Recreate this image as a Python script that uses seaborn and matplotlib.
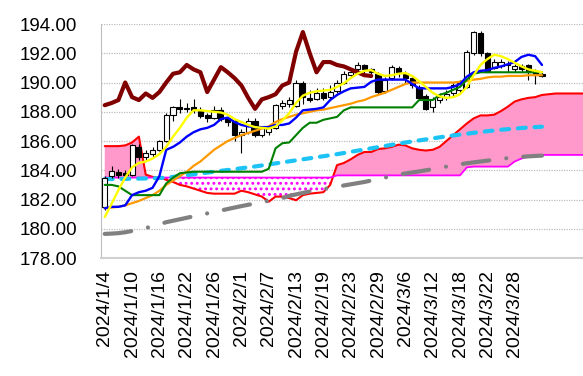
import numpy as np
import matplotlib
matplotlib.use("Agg")
import matplotlib.pyplot as plt
import seaborn as sns
from matplotlib.ticker import StrMethodFormatter

sns.set_style("white")
plt.rcParams['font.family'] = ['Liberation Sans', 'DejaVu Sans']
plt.rcParams['hatch.linewidth'] = 1.3

# tick labels (every 4th trading day)
tick_labels = ['2024/1/4', '2024/1/10', '2024/1/16', '2024/1/22', '2024/1/26',
               '2024/2/1', '2024/2/7', '2024/2/13', '2024/2/19', '2024/2/23',
               '2024/2/29', '2024/3/6', '2024/3/12', '2024/3/18', '2024/3/22',
               '2024/3/28']

# daily candles
opens = [181.5, 183.6, 183.9, 183.8, 183.7, 185.6, 184.9, 185.1, 185.4, 186.0,
         187.8, 188.3, 188.2, 188.3, 188.1, 187.75, 187.6, 188.1, 187.5, 187.4,
         186.4, 186.6, 187.4, 186.4, 186.6, 186.9, 188.4, 188.5, 188.4, 190.0,
         188.95, 188.9, 189.25, 189.0, 189.4, 190.0, 190.5, 190.9, 191.2, 190.9,
         190.6, 189.4, 190.3, 191.0, 190.65, 190.3, 189.7, 189.1, 188.3, 188.8,
         189.0, 189.3, 189.5, 189.7, 192.0, 193.4, 192.0, 191.0, 191.1, 191.3,
         190.9, 191.1, 191.2, 190.8, 190.55]
closes = [183.45, 183.95, 183.65, 183.7, 185.7, 184.9, 185.2, 185.4, 186.0, 187.8,
          188.3, 188.2, 188.25, 188.15, 187.7, 187.6, 188.1, 187.5, 187.3, 186.4,
          186.6, 187.4, 186.4, 186.9, 186.9, 188.45, 188.6, 188.8, 190.0, 189.0,
          188.8, 189.25, 188.95, 189.35, 190.0, 190.6, 190.7, 191.2, 190.9, 190.7,
          189.35, 190.2, 191.05, 190.7, 190.3, 189.8, 188.95, 188.2, 188.85, 189.0,
          189.2, 189.8, 190.0, 192.1, 193.45, 192.0, 190.7, 191.4, 191.4, 191.2,
          191.1, 190.9, 190.7, 190.5, 190.45]
highs = [183.6, 184.3, 184.1, 184.0, 185.8, 185.8, 185.4, 185.6, 186.1, 187.9,
         188.4, 188.9, 188.6, 188.9, 188.3, 187.9, 188.4, 188.3, 187.6, 187.5,
         186.8, 187.6, 187.6, 187.0, 187.1, 188.5, 188.8, 189.0, 190.2, 190.1,
         189.5, 189.6, 189.6, 189.8, 190.2, 190.8, 191.0, 191.4, 191.3, 191.0,
         190.7, 190.4, 191.2, 191.1, 190.8, 190.4, 189.8, 189.2, 189.0, 189.3,
         189.5, 190.0, 190.2, 192.2, 193.55, 193.5, 192.1, 191.6, 191.6, 191.5,
         191.3, 191.3, 191.3, 190.9, 190.7]
lows = [181.3, 183.5, 183.5, 183.4, 183.6, 184.7, 184.7, 184.9, 185.3, 185.9,
        187.4, 187.9, 188.0, 187.9, 187.6, 187.3, 187.5, 187.4, 187.0, 186.0,
        185.2, 186.5, 186.3, 186.3, 186.4, 186.8, 188.2, 188.3, 188.3, 188.5,
        188.7, 188.8, 188.8, 188.9, 189.3, 189.9, 190.3, 190.8, 190.6, 190.4,
        189.2, 189.3, 190.2, 190.4, 190.0, 189.6, 188.9, 188.1, 188.0, 188.6,
        188.8, 189.1, 189.3, 189.6, 191.9, 191.8, 190.7, 190.9, 191.0, 190.7,
        190.7, 190.7, 190.2, 189.9, 190.4]

# indicator lines
yellow_line = [180.8, 181.7, 182.65, 183.5, 184.2, 184.5, 184.6, 184.8, 185.1, 185.6,
               186.3, 186.9, 187.6, 188.1, 188.1, 188.05, 188.0, 187.95, 187.8, 187.5,
               187.3, 187.1, 186.95, 186.9, 186.85, 187.0, 187.4, 187.9, 188.6, 189.1,
               189.3, 189.4, 189.45, 189.5, 189.7, 189.95, 190.3, 190.6, 190.8, 190.85,
               190.6, 190.45, 190.5, 190.6, 190.65, 190.45, 190.1, 189.7, 189.3, 189.05,
               188.95, 189.0, 189.2, 189.7, 190.5, 191.2, 191.6, 191.9, 191.8, 191.6,
               191.35, 191.1, 190.9, 190.8, 190.7]
blue_line = [181.4, 181.5, 181.5, 181.6, 182.3, 182.5, 182.6, 182.8, 183.6, 185.4,
             185.6, 185.9, 186.3, 186.6, 186.8, 186.9, 187.1, 187.5, 187.6, 187.3,
             187.1, 187.0, 186.95, 186.95, 186.95, 187.1, 187.1, 187.2, 187.6, 188.1,
             188.15, 188.2, 188.3, 188.8, 189.15, 189.4, 189.6, 189.65, 189.7, 190.05,
             190.2, 190.2, 190.2, 190.2, 190.2, 189.9, 189.6, 189.6, 189.6, 189.6,
             189.6, 189.7, 189.9, 190.4, 190.7, 190.8, 190.85, 191.0, 191.1, 191.25,
             191.4, 191.75, 191.9, 191.8, 191.2]
green_line = [183.0, 183.0, 182.9, 182.6, 182.3, 182.3, 182.3, 182.3, 182.3, 183.1,
              183.5, 183.8, 183.85, 183.9, 183.9, 183.9, 183.9, 183.9, 183.9, 183.9,
              183.9, 183.9, 183.9, 183.9, 184.1, 185.5, 185.85, 185.9, 186.4, 186.9,
              187.25, 187.25, 187.45, 187.55, 187.65, 188.1, 188.3, 188.3, 188.3, 188.3,
              188.3, 188.3, 188.3, 188.3, 188.3, 188.3, 188.8, 188.8, 188.8, 189.15,
              189.3, 189.5, 189.7, 190.2, 190.6, 190.7, 190.7, 190.7, 190.7, 190.7,
              190.7, 190.7, 190.7, 190.7, 190.7]
orange_line = [181.4, 181.45, 181.5, 181.6, 181.75, 181.9, 182.1, 182.3, 182.6, 183.0,
               183.3, 183.6, 183.9, 184.3, 184.6, 185.0, 185.4, 185.7, 186.0, 186.2,
               186.4, 186.55, 186.7, 186.85, 187.0, 187.3, 187.5, 187.65, 187.8, 187.9,
               188.0, 188.1, 188.15, 188.25, 188.35, 188.45, 188.55, 188.7, 188.8, 189.0,
               189.15, 189.3, 189.5, 189.7, 189.9, 190.0, 190.0, 190.0, 190.0, 190.0,
               190.0, 190.0, 190.05, 190.1, 190.2, 190.25, 190.35, 190.4, 190.4, 190.45,
               190.45, 190.45, 190.5, 190.5, 190.5]
cyan_line = [183.40, 183.40, 183.40, 183.41, 183.42, 183.43, 183.44, 183.45, 183.47, 183.50,
             183.55, 183.60, 183.66, 183.72, 183.78, 183.84, 183.90, 183.96, 184.02, 184.08,
             184.14, 184.20, 184.26, 184.33, 184.40, 184.47, 184.54, 184.61, 184.68, 184.75,
             184.82, 184.89, 184.96, 185.03, 185.10, 185.18, 185.26, 185.34, 185.42, 185.50,
             185.58, 185.66, 185.74, 185.82, 185.90, 185.97, 186.04, 186.11, 186.18, 186.25,
             186.32, 186.38, 186.44, 186.50, 186.56, 186.62, 186.67, 186.72, 186.77, 186.81,
             186.85, 186.89, 186.92, 186.95, 186.98]
gray_line = [179.65, 179.67, 179.7, 179.76, 179.85, 179.95, 180.05, 180.17, 180.3, 180.45,
             180.55, 180.65, 180.75, 180.85, 180.95, 181.05, 181.15, 181.25, 181.35, 181.45,
             181.55, 181.64, 181.73, 181.82, 181.91, 182.0, 182.1, 182.25, 182.35, 182.45,
             182.55, 182.63, 182.7, 182.8, 182.88, 182.96, 183.04, 183.12, 183.2, 183.3,
             183.4, 183.5, 183.6, 183.7, 183.78, 183.85, 183.92, 184.0, 184.08, 184.16,
             184.25, 184.33, 184.41, 184.48, 184.54, 184.6, 184.66, 184.72, 184.78, 184.83,
             184.88, 184.92, 184.95, 184.98, 185.0]

# leading spans (run further right than the candles)
span_a = [185.65, 185.65, 185.65, 185.7, 185.9, 186.3, 183.7, 183.55, 183.5, 183.35,
          183.2, 183.0, 182.9, 182.75, 182.6, 182.45, 182.4, 182.4, 182.4, 182.4,
          182.6, 182.5, 182.35, 182.2, 181.85, 182.2, 182.2, 182.1, 181.95, 182.3,
          182.4, 182.45, 182.5, 183.0, 184.35, 184.5, 184.75, 185.05, 185.25, 185.25,
          185.45, 185.5, 185.6, 185.75, 185.7, 185.5, 185.4, 185.35, 185.4, 185.6,
          186.0, 186.4, 186.8, 187.2, 187.55, 187.75, 187.75, 187.8, 188.05, 188.35,
          188.7, 188.85, 188.95, 189.0, 189.15, 189.2, 189.25, 189.25, 189.25, 189.25,
          189.25]
span_b = [183.5, 183.5, 183.5, 183.5, 183.5, 183.5, 183.5, 183.5, 183.5, 183.5,
          183.5, 183.5, 183.5, 183.5, 183.5, 183.5, 183.5, 183.5, 183.5, 183.5,
          183.5, 183.5, 183.5, 183.5, 183.5, 183.5, 183.5, 183.5, 183.5, 183.5,
          183.5, 183.5, 183.5, 183.5, 183.65, 183.65, 183.65, 183.65, 183.65, 183.65,
          183.65, 183.65, 183.65, 183.65, 183.65, 183.65, 183.65, 183.65, 183.65, 183.65,
          183.65, 183.65, 183.65, 184.2, 184.25, 184.25, 184.25, 184.25, 184.25, 184.25,
          184.6, 184.8, 184.95, 185.05, 185.05, 185.05, 185.05, 185.05, 185.05, 185.05,
          185.05]

o = np.array(opens)
c = np.array(closes)
x = np.arange(len(c))
xs = np.arange(len(span_a))
sa = np.array(span_a)
sb = np.array(span_b)
lag = c[25:]
xl = np.arange(len(lag))

fig = plt.figure(figsize=(5.83, 3.76), dpi=100)
ax = fig.add_axes([0.1732, 0.3138, 0.8268, 0.6223])

# cloud
ax.fill_between(xs, sa, sb, where=sa >= sb, interpolate=True,
                color='#FF99CC', linewidth=0, zorder=1)
ax.fill_between(xs, sa, sb, where=sa < sb, interpolate=True,
                facecolor='white', edgecolor='#FF00FF', hatch='...',
                linewidth=0, zorder=1)

sns.lineplot(x=xs, y=sa, ax=ax, color='#FF0000', lw=1.5, zorder=2)
sns.lineplot(x=xs, y=sb, ax=ax, color='#FF00FF', lw=1.3, zorder=2)
sns.lineplot(x=x, y=gray_line, ax=ax, color='#808080', lw=3,
             linestyle=(0, (6.4, 4.1, 0.01, 4.1)), dash_capstyle='round', zorder=2.5)
sns.lineplot(x=x, y=cyan_line, ax=ax, color='#1EC3F5', lw=3,
             linestyle=(0, (1.9, 2.1)), dash_capstyle='round', zorder=2.6)

# candles
body_low = np.minimum(o, c)
body_h = np.maximum(np.abs(c - o), 0.04)
face = ['white' if cc >= oo else 'black' for oo, cc in zip(o, c)]
ax.vlines(x, lows, highs, color='black', lw=0.8, zorder=3)
ax.bar(x, body_h, bottom=body_low, width=0.75, color=face,
       edgecolor='black', linewidth=0.8, zorder=3.2)

sns.lineplot(x=x, y=orange_line, ax=ax, color='#FF9900', lw=1.6, zorder=4)
sns.lineplot(x=x, y=green_line, ax=ax, color='#008000', lw=1.5, zorder=4)
sns.lineplot(x=xl, y=lag, ax=ax, color='#800000', lw=3, zorder=4.2)
sns.lineplot(x=x, y=blue_line, ax=ax, color='#0000FF', lw=1.7, zorder=4.4)
sns.lineplot(x=x, y=yellow_line, ax=ax, color='#FFFF00', lw=1.7, zorder=4.6)

ax.set_xlim(-0.55, 70)
ax.set_ylim(178, 194)
ax.set_yticks(np.arange(178, 195, 2))
ax.yaxis.set_major_formatter(StrMethodFormatter('{x:.2f}'))
ax.set_xticks(np.arange(0, 61, 4))
ax.set_xticklabels(tick_labels, rotation=90)
ax.tick_params(axis='y', length=0, pad=17, labelsize=13.5, colors='black')
ax.tick_params(axis='x', length=0, pad=8.5, labelsize=14, colors='black')
ax.yaxis.grid(True, color='#BFBFBF', linestyle=(0, (1, 1)), lw=0.9)
ax.xaxis.grid(False)
ax.set_axisbelow(True)
ax.set_xlabel('')
ax.set_ylabel('')
for s in ['top', 'right']:
    ax.spines[s].set_visible(False)
ax.spines['left'].set_color('#BFBFBF')
ax.spines['bottom'].set_color('#D0D0D0')
ax.spines['bottom'].set_linewidth(1.5)

fig.savefig('out.png', dpi=100)
